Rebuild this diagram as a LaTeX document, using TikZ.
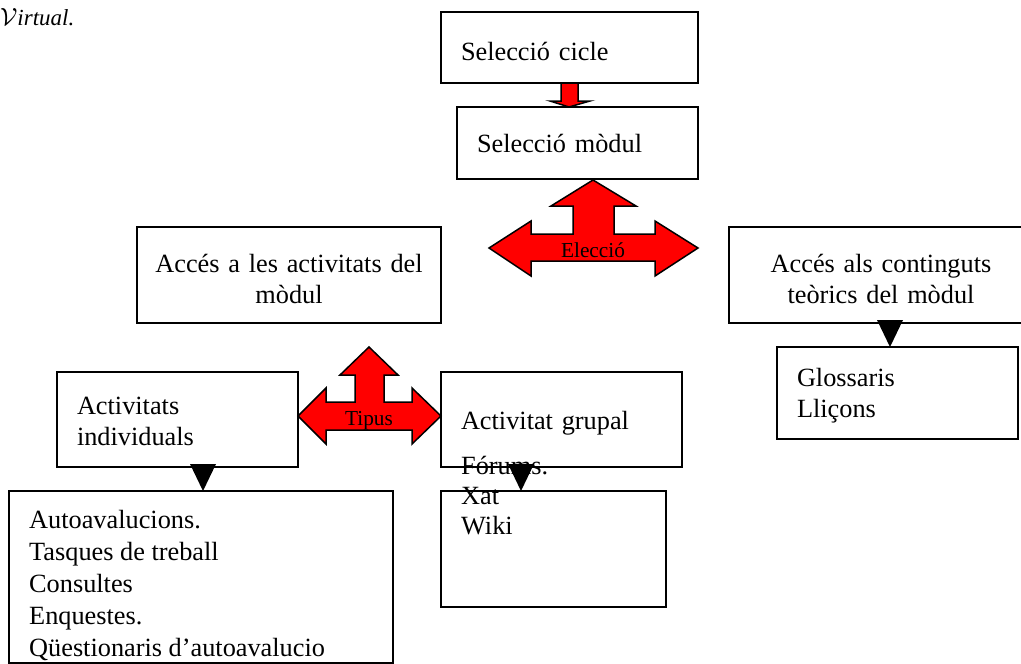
\documentclass[tikz,border=0pt]{standalone}
\usepackage{fontspec}
\setmainfont{Liberation Serif}
\usetikzlibrary{positioning}
\newcommand{\pushdown}[1]{\rule{0pt}{#1pt}}

\begin{document}
\begin{tikzpicture}[
    x=1pt, y=-1pt,
    block/.style={
        rectangle, draw=black, line width=1.5pt, anchor=north west, outer sep=0pt,
        inner xsep=20pt, inner ysep=0pt, align=left,
        font=\fontsize{26.3}{31}\selectfont
    },
    plain/.style={anchor=north west, inner sep=0pt, align=left, font=\fontsize{26.3}{32}\selectfont},
    redarrow/.style={draw=black, line width=1.5pt, fill=red},
    blackarrow/.style={fill=black},
    arrowtext/.style={font=\fontsize{21.3}{24}\selectfont}
]
    \useasboundingbox (0,0) rectangle (1021,664);
    \clip (0,0) rectangle (1021,664);

    \node[anchor=base west,inner sep=0pt,font=\itshape\fontsize{23}{24}\selectfont] (virtual) at (0,25) {{\fontsize{40}{40}\selectfont$\mathcal{V}$}irtual.};

    % Boxes
    \node[block,text width=217pt,minimum height=71pt] (cicle) at (441,12) {\pushdown{26}Selecció cicle};
    \node[block,text width=201pt,minimum height=72pt] (modul) at (457,107) {Selecció mòdul};
    \node[block,inner xsep=5pt,text width=294pt,minimum height=96pt,align=center] (activ) at (137,227) {\pushdown{26}Accés a les activitats del\\mòdul};
    \node[block,inner xsep=5pt,text width=294pt,minimum height=96pt,align=center] (teoria) at (729,227) {\pushdown{26}Accés als continguts\\teòrics del mòdul};
    \node[block,text width=201pt,minimum height=95pt] (indiv) at (57,372) {\pushdown{21}Activitats\\individuals};
    \node[block,text width=201pt,minimum height=95pt] (grupal) at (441,372) {\pushdown{26}Activitat grupal};
    \node[block,text width=201pt,minimum height=92pt] (gloss) at (777,347) {\pushdown{24}Glossaris\\Lliçons};
    \node[block,minimum width=384pt,minimum height=172pt] (auto) at (9,491) {};
    \node[block,minimum width=225pt,minimum height=116pt] (forum) at (441,491) {};

    % Texts of the lower boxes
    \node[plain] (autotext) at (29,510) {Autoavalucions.\\Tasques de treball\\Consultes\\Enquestes.\\Qüestionaris d’autoavalucio};
    \node[plain,font=\fontsize{26.3}{30}\selectfont] (forumtext) at (461,456) {Fórums.\\Xat\\Wiki};

    % Arrows
    \draw[redarrow] (561,83) -- (578,83) -- (578,101) -- (590,101) -- (569,107) -- (550,101) -- (561,101) -- cycle;
    \draw[redarrow] (593,180) -- (636,206) -- (614,206) -- (614,234) -- (655,234) -- (655,221) -- (698,248)
        -- (655,276) -- (655,261) -- (531,261) -- (531,276) -- (489,248) -- (531,221) -- (531,234)
        -- (573,234) -- (573,206) -- (551,206) -- cycle;
    \draw[redarrow] (369,347) -- (398,375) -- (384,375) -- (384,402) -- (412,402) -- (412,388) -- (441,416)
        -- (412,444) -- (412,430) -- (326,430) -- (326,444) -- (298,416) -- (326,388) -- (326,402)
        -- (355,402) -- (355,375) -- (340,375) -- cycle;
    \node[arrowtext] (eleccio) at (593,250) {Elecció};
    \node[arrowtext] (tipus) at (369,421) {Tipus};

    \foreach \x/\ytop/\ybot in {890/320/347,203/464/491,521/464/491} {
        \fill[blackarrow] (\x-13,\ytop) -- (\x+13,\ytop) -- (\x,\ybot) -- cycle;
    }
\end{tikzpicture}
\end{document}
